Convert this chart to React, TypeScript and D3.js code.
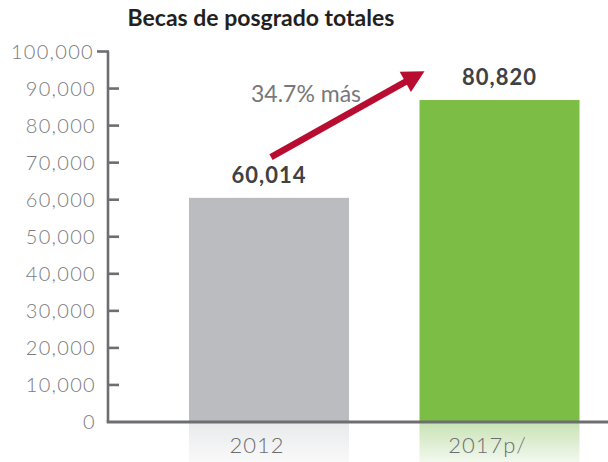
import React from "react";
import * as d3 from "d3";

const categories = ["2012", "2017p/"];
const barValues = [60500, 86900]; // bar heights as drawn in the picture
const valueLabels = ["60,014", "80,820"];
const yTicks = [0, 10000, 20000, 30000, 40000, 50000, 60000, 70000, 80000, 90000, 100000];
const title = "Becas de posgrado totales";
const arrowLabel = "34.7% más";
const arrowStartValue = 71500;
const arrowEndValue = 94700;

const W = 608;
const H = 462;
const barColors = ["#bbbcbf", "#7bbd45"];
const shadeTop = ["#e9eaeb", "#c9e3b5"];
const shadeBottom = ["#f9f9fa", "#f2f8ee"];

export default function App() {
  const y = d3.scaleLinear().domain([0, 100000]).range([422, 51.5]);
  const x = d3
    .scaleBand<string>()
    .domain(categories)
    .range([189, 579.5])
    .paddingInner(0.306)
    .paddingOuter(0);
  const bw = x.bandwidth();
  const axisX = 108;
  const fmt = d3.format(",");

  // arrow
  const x0 = (x("2012") as number) + bw / 2 + 2;
  const y0 = y(arrowStartValue);
  const tipX = (x("2017p/") as number) + 5;
  const tipY = y(arrowEndValue);
  const dx = tipX - x0;
  const dy = tipY - y0;
  const len = Math.sqrt(dx * dx + dy * dy);
  const ux = dx / len;
  const uy = dy / len;
  const headLen = 22;
  const headHalf = 11.5;
  const bx = tipX - ux * headLen;
  const by = tipY - uy * headLen;
  const head = [
    [tipX, tipY],
    [bx - uy * headHalf, by + ux * headHalf],
    [bx + uy * headHalf, by - ux * headHalf],
  ];

  return (
    <svg
      width={W}
      height={H}
      style={{ position: "absolute", left: 0, top: 0, background: "#fff" }}
      fontFamily="Lato, 'Open Sans', sans-serif"
    >
      <defs>
        {categories.map((c, i) => (
          <linearGradient key={c} id={`shade${i}`} x1="0" y1="0" x2="0" y2="1">
            <stop offset="0" stopColor={shadeTop[i]} />
            <stop offset="1" stopColor={shadeBottom[i]} />
          </linearGradient>
        ))}
      </defs>

      <text
        x={261}
        y={26}
        textAnchor="middle"
        fontSize={23}
        fontWeight={700}
        fill="#231f20"
      >
        {title}
      </text>

      {/* reflections under bars */}
      {categories.map((c, i) => (
        <rect
          key={"s" + c}
          x={x(c)}
          y={y(0) + 1}
          width={bw}
          height={H - y(0) - 1}
          fill={`url(#shade${i})`}
        />
      ))}

      {/* bars */}
      {categories.map((c, i) => (
        <rect
          key={"b" + c}
          x={x(c)}
          y={y(barValues[i])}
          width={bw}
          height={y(0) - y(barValues[i])}
          fill={barColors[i]}
        />
      ))}

      {/* y axis */}
      <line x1={axisX} x2={axisX} y1={y(100000)} y2={y(0)} stroke="#6d6e71" strokeWidth={2.6} />
      {yTicks.map((t) => (
        <g key={t}>
          {t > 0 && t < 100000 && (
            <line x1={axisX} x2={axisX + 11} y1={y(t)} y2={y(t)} stroke="#6d6e71" strokeWidth={2.6} />
          )}
          {t === 100000 && (
            <line x1={axisX - 11} x2={axisX + 1} y1={y(t)} y2={y(t)} stroke="#6d6e71" strokeWidth={2.6} />
          )}
          <text
            x={t === 100000 ? 94 : 96}
            y={y(t)}
            dy="0.36em"
            textAnchor="end"
            fontSize={20}
            fontWeight={300}
            letterSpacing={1.3}
            fill="#7a7b7e"
          >
            {fmt(t)}
          </text>
        </g>
      ))}
      <line x1={axisX - 1.3} x2={W} y1={y(0)} y2={y(0)} stroke="#6d6e71" strokeWidth={3} />

      {/* category labels */}
      {categories.map((c) => (
        <text
          key={"c" + c}
          x={(x(c) as number) + bw / 2 - 12}
          y={453}
          textAnchor="middle"
          fontSize={22}
          fontWeight={300}
          letterSpacing={1}
          fill="#6d6e71"
        >
          {c}
        </text>
      ))}

      {/* value labels */}
      {categories.map((c, i) => (
        <text
          key={"v" + c}
          x={(x(c) as number) + bw / 2}
          y={y(barValues[i]) - 15}
          textAnchor="middle"
          fontSize={22}
          fontWeight={700}
          letterSpacing={1}
          fill="#414042"
        >
          {valueLabels[i]}
        </text>
      ))}

      {/* arrow */}
      <line x1={x0} y1={y0} x2={bx + ux * 2} y2={by + uy * 2} stroke="#b80c31" strokeWidth={6.5} />
      <polygon points={head.map((p) => p.join(",")).join(" ")} fill="#b80c31" />
      <text x={306} y={102} textAnchor="middle" fontSize={23} fontWeight={400} fill="#77787b">
        {arrowLabel}
      </text>
    </svg>
  );
}
